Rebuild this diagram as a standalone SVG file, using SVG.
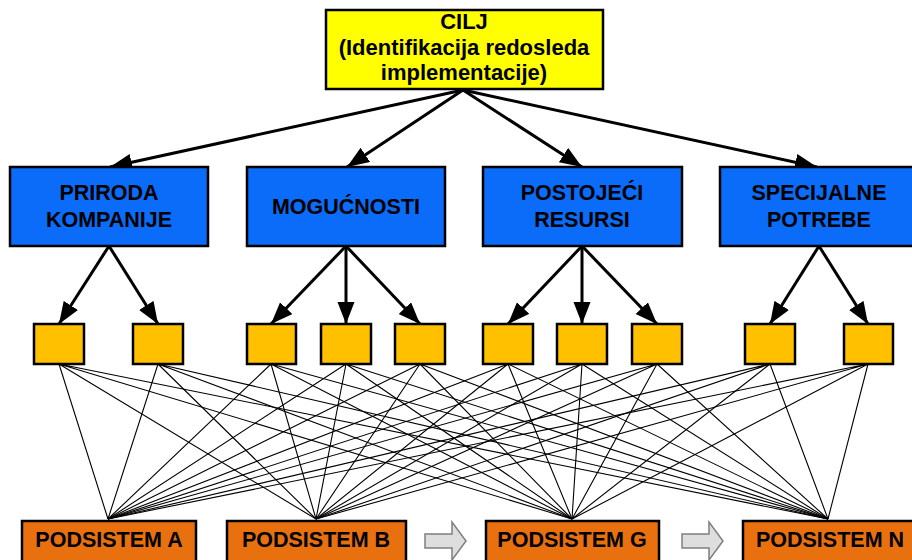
<svg xmlns="http://www.w3.org/2000/svg" width="912" height="560" viewBox="0 0 912 560">
<defs>
<marker id="ah" markerUnits="userSpaceOnUse" markerWidth="24" markerHeight="18" refX="22" refY="8.5" orient="auto">
<path d="M0,0 L22,8.5 L0,17 Z" fill="#000"/>
</marker>
<style>
.t{font-family:"Liberation Sans",Arial,sans-serif;font-weight:bold;font-size:21.5px;text-anchor:middle;fill:#000}
.tg{font-size:22px}
.goal{fill:#FFFF00;stroke:#000;stroke-width:2.5}
.cat{fill:#0A6CF8;stroke:#000;stroke-width:2.5}
.fac{fill:#FFC000;stroke:#000;stroke-width:2.5}
.sub{fill:#E8700F;stroke:#000;stroke-width:2.5}
.arr{stroke:#000;stroke-width:3;fill:none;marker-end:url(#ah)}
.ln{stroke:#000;stroke-width:1.1;fill:none}
.gray{fill:#DEDEDE;stroke:#7F7F7F;stroke-width:1.5}
</style>
</defs>
<rect width="912" height="560" fill="#fff"/>
<g id="connectors">
<path class="arr" d="M463,90 L110,167"/>
<path class="arr" d="M463,90 L347,167"/>
<path class="arr" d="M463,90 L582,167"/>
<path class="arr" d="M463,90 L817,167"/>
<path class="arr" d="M109,246 L59,324"/>
<path class="arr" d="M109,246 L158,324"/>
<path class="arr" d="M346,246 L271,324"/>
<path class="arr" d="M346,246 L346,324"/>
<path class="arr" d="M346,246 L420,324"/>
<path class="arr" d="M582,246 L508,324"/>
<path class="arr" d="M582,246 L582,324"/>
<path class="arr" d="M582,246 L657,324"/>
<path class="arr" d="M819,246 L770,324"/>
<path class="arr" d="M819,246 L868,324"/>
<g class="ln">
<path d="M59,364 L108,519 M59,364 L316,519 M59,364 L572,519 M59,364 L828,519"/>
<path d="M158,364 L108,519 M158,364 L316,519 M158,364 L572,519 M158,364 L828,519"/>
<path d="M271,364 L108,519 M271,364 L316,519 M271,364 L572,519 M271,364 L828,519"/>
<path d="M346,364 L108,519 M346,364 L316,519 M346,364 L572,519 M346,364 L828,519"/>
<path d="M420,364 L108,519 M420,364 L316,519 M420,364 L572,519 M420,364 L828,519"/>
<path d="M508,364 L108,519 M508,364 L316,519 M508,364 L572,519 M508,364 L828,519"/>
<path d="M582,364 L108,519 M582,364 L316,519 M582,364 L572,519 M582,364 L828,519"/>
<path d="M657,364 L108,519 M657,364 L316,519 M657,364 L572,519 M657,364 L828,519"/>
<path d="M770,364 L108,519 M770,364 L316,519 M770,364 L572,519 M770,364 L828,519"/>
<path d="M868,364 L108,519 M868,364 L316,519 M868,364 L572,519 M868,364 L828,519"/>
</g>
<path class="gray" d="M425,534 L452,534 L452,522 L466,541 L452,560 L452,548 L425,548 Z"/>
<path class="gray" d="M682,534 L709,534 L709,522 L723,541 L709,560 L709,548 L682,548 Z"/>
</g>
<g id="goal">
<rect class="goal" x="326" y="10" width="277" height="79"/>
<text class="t tg" x="464" y="29">CILJ</text>
<text class="t tg" x="464" y="55">(Identifikacija redosleda</text>
<text class="t tg" x="464" y="80">implementacije)</text>
</g>
<g id="priroda">
<rect class="cat" x="10" y="167" width="198" height="79"/>
<text class="t" x="109" y="200">PRIRODA</text>
<text class="t" x="109" y="227">KOMPANIJE</text>
</g>
<g id="mogucnosti">
<rect class="cat" x="247" y="167" width="198" height="79"/>
<text class="t" x="346" y="214">MOGUĆNOSTI</text>
</g>
<g id="resursi">
<rect class="cat" x="483" y="167" width="199" height="79"/>
<text class="t" x="582" y="200">POSTOJEĆI</text>
<text class="t" x="582" y="227">RESURSI</text>
</g>
<g id="potrebe">
<rect class="cat" x="720" y="167" width="198" height="79"/>
<text class="t" x="819" y="200">SPECIJALNE</text>
<text class="t" x="819" y="227">POTREBE</text>
</g>
<g id="f1"><rect class="fac" x="34" y="324" width="50" height="40"/></g>
<g id="f2"><rect class="fac" x="133" y="324" width="50" height="40"/></g>
<g id="f3"><rect class="fac" x="247" y="324" width="49" height="40"/></g>
<g id="f4"><rect class="fac" x="321" y="324" width="50" height="40"/></g>
<g id="f5"><rect class="fac" x="395" y="324" width="50" height="40"/></g>
<g id="f6"><rect class="fac" x="483" y="324" width="50" height="40"/></g>
<g id="f7"><rect class="fac" x="557" y="324" width="50" height="40"/></g>
<g id="f8"><rect class="fac" x="632" y="324" width="50" height="40"/></g>
<g id="f9"><rect class="fac" x="745" y="324" width="50" height="40"/></g>
<g id="f10"><rect class="fac" x="844" y="324" width="49" height="40"/></g>
<g id="podsistemA">
<rect class="sub" x="22" y="521" width="174" height="45"/>
<text class="t" x="109" y="547">PODSISTEM A</text>
</g>
<g id="podsistemB">
<rect class="sub" x="227" y="521" width="179" height="45"/>
<text class="t" x="316" y="547">PODSISTEM B</text>
</g>
<g id="podsistemG">
<rect class="sub" x="486" y="521" width="173" height="45"/>
<text class="t" x="572" y="547">PODSISTEM G</text>
</g>
<g id="podsistemN">
<rect class="sub" x="743" y="521" width="175" height="45"/>
<text class="t" x="830" y="547">PODSISTEM N</text>
</g>
</svg>
